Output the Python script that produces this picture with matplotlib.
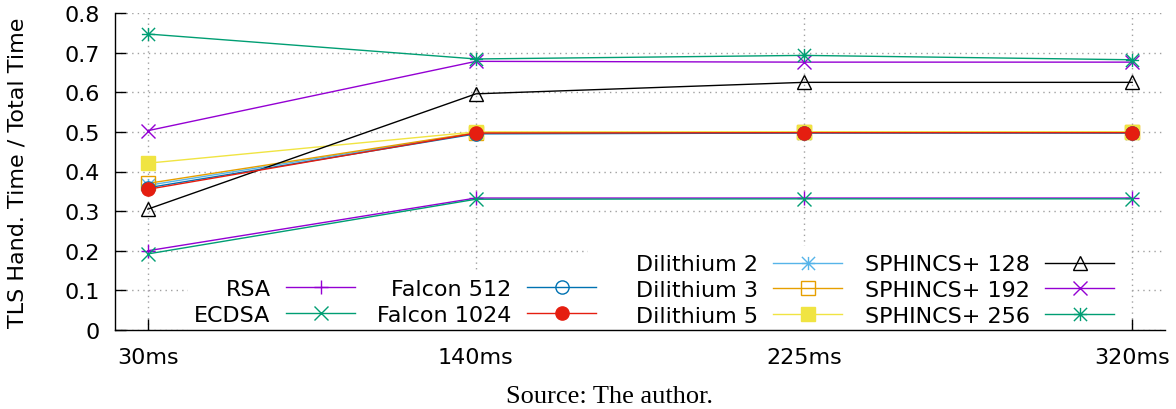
import matplotlib
matplotlib.use("Agg")
import matplotlib.pyplot as plt
from matplotlib.patches import Rectangle
from matplotlib.path import Path

categories = ['30ms', '140ms', '225ms', '320ms']

rsa        = [0.200, 0.333, 0.333, 0.333]
ecdsa      = [0.192, 0.330, 0.331, 0.331]
falcon512  = [0.359, 0.495, 0.497, 0.497]
falcon1024 = [0.355, 0.497, 0.498, 0.498]
dil2       = [0.365, 0.497, 0.498, 0.498]
dil3       = [0.370, 0.498, 0.499, 0.499]
dil5       = [0.421, 0.500, 0.500, 0.500]
sph128     = [0.305, 0.596, 0.625, 0.625]
sph192     = [0.503, 0.678, 0.676, 0.676]
sph256     = [0.747, 0.684, 0.693, 0.682]

labels = ['RSA', 'ECDSA', 'Falcon 512', 'Falcon 1024', 'Dilithium 2',
          'Dilithium 3', 'Dilithium 5', 'SPHINCS+ 128', 'SPHINCS+ 192', 'SPHINCS+ 256']
series = [rsa, ecdsa, falcon512, falcon1024, dil2, dil3, dil5, sph128, sph192, sph256]

# gnuplot-style asterisk: "+" overlaid with "x"
ast = Path([(-1, 0), (1, 0), (0, -1), (0, 1), (-1, -1), (1, 1), (-1, 1), (1, -1)],
           [Path.MOVETO, Path.LINETO] * 4)
styles = [
    dict(color='#9400d3', marker='+', mfc='#9400d3', z=3.0, ms=9.5),
    dict(color='#009e73', marker='x', mfc='#009e73', z=3.0, ms=9.5),
    dict(color='#0072b2', marker='o', mfc='none', z=3.8, ms=9.5),
    dict(color='#e51e10', marker='o', mfc='#e51e10', z=3.9, ms=9.5),
    dict(color='#56b4e9', marker=ast, mfc='#56b4e9', z=3.0, ms=9.5),
    dict(color='#e69f00', marker='s', mfc='none', z=3.0, ms=9.5),
    dict(color='#f0e442', marker='s', mfc='#f0e442', z=3.0, ms=9.5),
    dict(color='#000000', marker='^', mfc='none', z=3.0, ms=9.5),
    dict(color='#9400d3', marker='x', mfc='#9400d3', z=3.0, ms=9.5),
    dict(color='#009e73', marker=ast, mfc='#009e73', z=3.0, ms=9.5),
]

plt.rcParams['font.family'] = ['DejaVu Sans']
W, H = 1176, 410
fig = plt.figure(figsize=(W / 100, H / 100), dpi=100)
ax = fig.add_axes([115 / W, 1 - 331 / H, (1165 - 115) / W, (331 - 14) / H])

x = list(range(len(categories)))
handles = []
for lab, ys, st in zip(labels, series, styles):
    h, = ax.plot(x, ys, color=st['color'], marker=st['marker'],
                 markerfacecolor=st['mfc'], markeredgecolor=st['color'],
                 markersize=st['ms'], markeredgewidth=1.0, linewidth=1.0, label=lab,
                 zorder=st['z'])
    handles.append(h)

ax.set_xlim(-0.1, 3.1)
ax.set_ylim(0, 0.8)
ax.set_xticks(x)
ax.set_xticklabels(categories)
ax.set_yticks([0, 0.1, 0.2, 0.3, 0.4, 0.5, 0.6, 0.7, 0.8])
ax.set_yticklabels(['0', '0.1', '0.2', '0.3', '0.4', '0.5', '0.6', '0.7', '0.8'])
ax.tick_params(axis='both', direction='in', length=8, width=1, labelsize=16,
               colors='black')
ax.tick_params(axis='y', pad=11)
ax.tick_params(axis='x', pad=12)
ax.grid(True, color='#a0a0a0', linestyle=(0, (1, 3)), linewidth=1.0)
ax.set_axisbelow(True)
for s in ['top', 'right']:
    ax.spines[s].set_visible(False)
for s in ['left', 'bottom']:
    ax.spines[s].set_linewidth(1.0)
    ax.spines[s].set_color('black')
    ax.spines[s].set_zorder(8)

# white key backgrounds (gnuplot opaque key), inside the axes
ybot = (H - 331) / H
for x0, x1, ytop in [(188, 600, 273), (588, 1128, 247)]:
    ax.add_patch(Rectangle((x0 / W, ybot), (x1 - x0) / W, (331 - ytop) / H,
                           transform=fig.transFigure, facecolor='white',
                           edgecolor='none', zorder=2.5, clip_on=False))

common = dict(fontsize=16, markerfirst=False, handlelength=3.1, handletextpad=0.7,
              columnspacing=1.0, labelspacing=0.26, borderpad=0.3,
              borderaxespad=0, loc='lower right', frameon=False, numpoints=1,
              bbox_transform=fig.transFigure)
pad = 0.3 * 16 * 100 / 72
legA = ax.legend(handles[:4], labels[:4], ncol=2,
                 bbox_to_anchor=((596 + pad) / W, (H - 326 - pad) / H), **common)
ax.add_artist(legA)
legB = ax.legend(handles[4:], labels[4:], ncol=2,
                 bbox_to_anchor=((1114 + pad) / W, (H - 327 - pad) / H), **common)
for lg in (legA, legB):
    lg.set_zorder(5)

fig.text(18 / W, 1 - 172.5 / H, 'TLS Hand. Time / Total Time', rotation=90,
         ha='center', va='center', fontsize=16)
fig.text(609.5 / W, (H - 403) / H, 'Source: The author.', ha='center',
         va='baseline', fontsize=19, family=['Liberation Serif', 'DejaVu Serif'])

fig.savefig('out.png', dpi=100)
